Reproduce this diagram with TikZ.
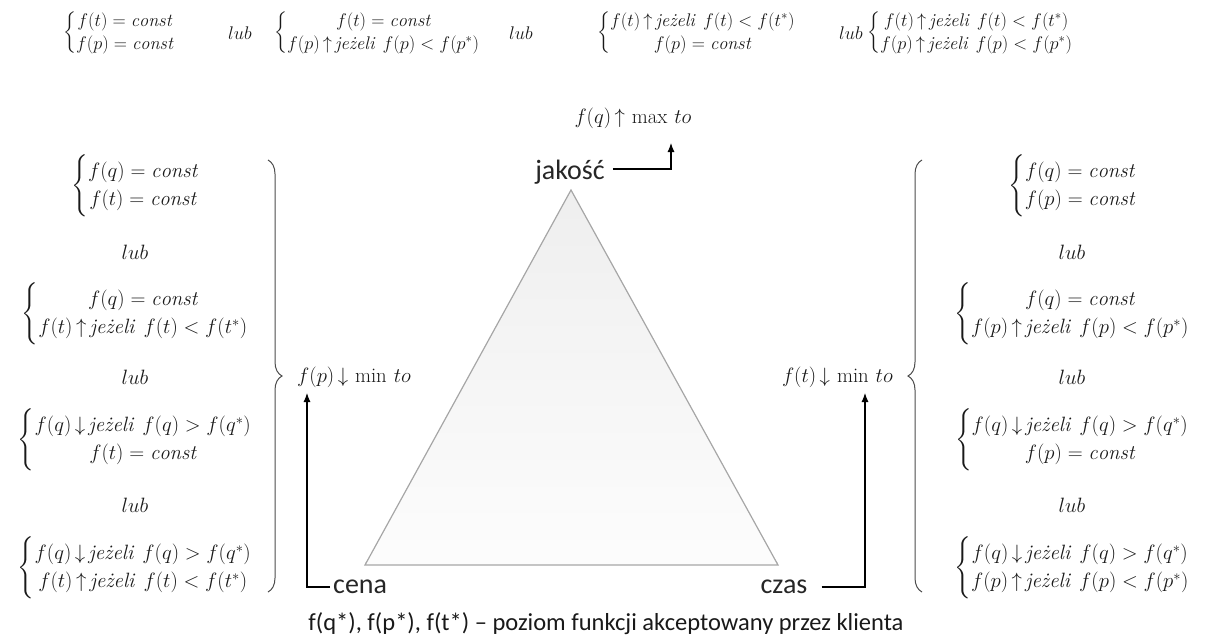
\documentclass[tikz,border=0pt]{standalone}
\usepackage{fix-cm}
\usepackage{amsmath}
\usepackage{fontspec}
\newfontfamily\calib{Carlito}
\usetikzlibrary{arrows.meta,decorations.pathreplacing,calc}
\newcommand\twocase[2]{$\delimiterfactor=750\left\{\begin{array}{@{}c@{}}#1\\#2\end{array}\right.$}
\newcommand\myup{\,{\uparrow}\,}
\newcommand\mydn{\,{\downarrow}\,}
\newcommand\jez{\textit{jeżeli}\;\,}
\newcommand\cst{\mathit{const}}
\newcommand\tconst{f(t)=\cst}
\newcommand\pconst{f(p)=\cst}
\newcommand\qconst{f(q)=\cst}
\newcommand\tup{f(t)\myup\jez f(t)<f(t^*)}
\newcommand\pup{f(p)\myup\jez f(p)<f(p^*)}
\newcommand\qdn{f(q)\mydn\jez f(q)>f(q^*)}
\begin{document}
\begin{tikzpicture}[x=1pt,y=-1pt,
  mth/.style={font=\fontsize{20.74}{28}\selectfont, inner sep=0pt, text=black!90},
  tmth/.style={font=\fontsize{18.3}{23}\selectfont, inner sep=0pt, text=black!90},
  lbl/.style={font=\calib\fontsize{28}{32}\selectfont, inner sep=0pt, text=black!85},
  arr/.style={line width=1.1pt, -{Latex[length=9pt,width=7pt]}},
  bigbrace/.style={decorate, decoration={brace, amplitude=14pt}, line width=1pt, draw=black!70},
]
\useasboundingbox (0,0) rectangle (1205,643);

% top row
\node[tmth, anchor=west] (t1) at (63,33) {\twocase{\tconst}{\pconst}};
\node[tmth] (l1) at (240,33) {$lub$};
\node[tmth, anchor=west] (t2) at (274,33) {\twocase{\tconst}{\pup}};
\node[tmth] (l2) at (521,33) {$lub$};
\node[tmth, anchor=west] (t3) at (597,33) {\twocase{\tup}{\pconst}};
\node[tmth] (l3) at (851,33) {$lub$};
\node[tmth, anchor=west] (t4) at (867,33) {\twocase{\tup}{\pup}};

% left column
\node[mth] (la) at (135,186) {\twocase{\qconst}{\tconst}};
\node[mth] (ll1) at (135,252) {$lub$};
\node[mth] (lb) at (135,314) {\twocase{\qconst}{\tup}};
\node[mth] (ll2) at (135,377) {$lub$};
\node[mth] (lc) at (135,440) {\twocase{\qdn}{\tconst}};
\node[mth] (ll3) at (135,505) {$lub$};
\node[mth] (ld) at (135,568) {\twocase{\qdn}{\tup}};

% right column
\node[mth] (ra) at (1072,186) {\twocase{\qconst}{\pconst}};
\node[mth] (rl1) at (1072,252) {$lub$};
\node[mth] (rb) at (1072,314) {\twocase{\qconst}{\pup}};
\node[mth] (rl2) at (1072,377) {$lub$};
\node[mth] (rc) at (1072,440) {\twocase{\qdn}{\pconst}};
\node[mth] (rl3) at (1072,505) {$lub$};
\node[mth] (rd) at (1072,568) {\twocase{\qdn}{\pup}};

% big braces
\coordinate (lbt) at (268,160);
\coordinate (lbb) at (268,592);
\draw[bigbrace] (lbt) -- (lbb);
\coordinate (rbt) at (922,160);
\coordinate (rbb) at (922,592);
\draw[bigbrace] (rbb) -- (rbt);

% triangle
\coordinate (A) at (571,190);
\coordinate (B) at (365,565);
\coordinate (C) at (778,565);
\draw[gray!20, line width=3pt] ([yshift=2pt]B) -- ([yshift=2pt]C);
\shade[top color=gray!13, bottom color=gray!2] (A) -- (B) -- (C) -- cycle;
\draw[gray!70, line width=1.2pt, line join=miter] (A) -- (B) -- (C) -- cycle;

% vertex labels
\node[lbl] (jak) at (570,172) {jakość};
\node[lbl, anchor=west] (cena) at (333,587) {cena};
\node[lbl] (czas) at (784,587) {czas};

% goal labels
\node[mth] (fq) at (633,118) {$f(q)\myup\max\,to$};
\node[mth, anchor=west] (fp) at (297,377) {$f(p)\mydn\min\,to$};
\node[mth, anchor=east] (ft) at (893,377) {$f(t)\mydn\min\,to$};

% arrows
\coordinate (jq) at (671,143);
\draw[arr] ([xshift=8pt,yshift=3pt]jak.east) -| (jq);
\coordinate (cp) at (307,393);
\draw[arr] ([xshift=-3pt]cena.west) -| (cp);
\coordinate (ct) at (865,393);
\draw[arr] ([xshift=14pt]czas.east) -| (ct);

% footnote
\node[font=\calib\fontsize{24.5}{28}\selectfont, inner sep=0pt, text=black!90] (note) at (606,624) {f(q*), f(p*), f(t*) – poziom funkcji akceptowany przez klienta};
\end{tikzpicture}
\end{document}
